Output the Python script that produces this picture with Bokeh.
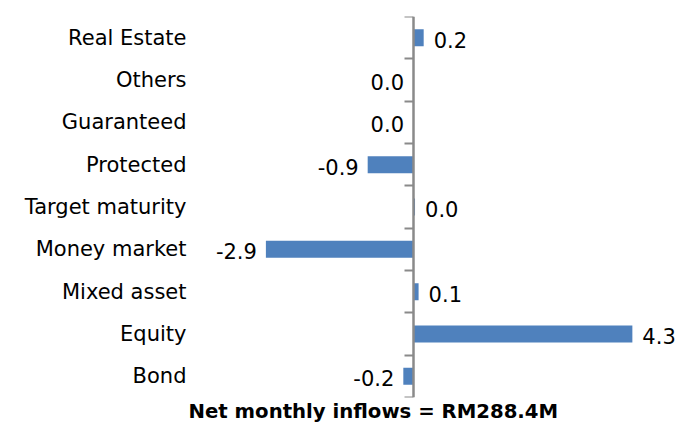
from bokeh.plotting import figure
from bokeh.models import (ColumnDataSource, Range1d, LinearAxis,
                          FixedTicker, Title)
from bokeh.core.properties import value
from bokeh.embed import file_html
from bokeh.resources import INLINE

# data (top to bottom in the chart)
categories = ["Real Estate", "Others", "Guaranteed", "Protected", "Target maturity",
              "Money market", "Mixed asset", "Equity", "Bond"]
inflows = [0.2, -0.01, -0.01, -0.9, 0.03, -2.9, 0.1, 4.3, -0.2]
chart_title = "Net monthly inflows = RM288.4M"

n = len(categories)
cats = categories[::-1]
vals = inflows[::-1]
ypos = [i + 0.5 for i in range(n)]
labels = [f"{round(v, 1) + 0.0:.1f}" for v in vals]
aligns = ["left" if v > 0 else "right" for v in vals]
offsets = [10 if v > 0 else -9 for v in vals]

src = ColumnDataSource(dict(y=ypos, val=vals, lab=labels, al=aligns, off=offsets))

PX = 50.9  # pixels per unit
p = figure(width=681, height=423, output_backend="svg", toolbar_location=None,
           y_range=Range1d(0, n),
           x_range=Range1d(-(413 - 192) / PX, (681 - 413) / PX),
           min_border_left=192, min_border_right=0, min_border_top=16,
           min_border_bottom=26, x_axis_type=None, y_axis_type=None)
p.outline_line_color = None
p.grid.visible = False
p.background_fill_color = "white"
p.border_fill_color = "white"

p.hbar(y="y", left=0, right="val", height=0.4, source=src,
       fill_color="#4F81BD", line_color=None)

p.text(x="val", y="y", text="lab", text_align="al", x_offset="off", y_offset=2,
       text_baseline="middle", text_font_size="21px", text_font=value("DejaVu Sans"),
       text_color="black", source=src)

# category labels
ya = LinearAxis(ticker=FixedTicker(ticks=ypos),
                major_label_overrides={y: c for y, c in zip(ypos, cats)},
                axis_line_color=None, major_tick_line_color=None,
                minor_tick_line_color=None, major_label_standoff=6,
                major_tick_in=0, major_tick_out=0,
                major_label_text_font="DejaVu Sans",
                major_label_text_font_size="21px",
                major_label_text_color="black")
p.add_layout(ya, "left")

# zero axis with ticks at category boundaries
edges = list(range(n + 1))
zax = LinearAxis(fixed_location=0,
                 ticker=FixedTicker(ticks=edges),
                 major_label_overrides={e: "" for e in edges},
                 major_tick_in=0, major_tick_out=9,
                 minor_tick_line_color=None, major_label_standoff=0,
                 axis_line_color="#8a8a8a", axis_line_width=2.5,
                 major_tick_line_color="#8a8a8a", major_tick_line_width=2)
p.add_layout(zax, "left")

p.add_layout(Title(text=chart_title, align="left", offset=-4, standoff=0,
                   vertical_align="bottom",
                   text_font="DejaVu Sans", text_font_style="bold",
                   text_font_size="19.7px", text_color="black"), "below")

open("out.html", "w").write(file_html(p, INLINE))
